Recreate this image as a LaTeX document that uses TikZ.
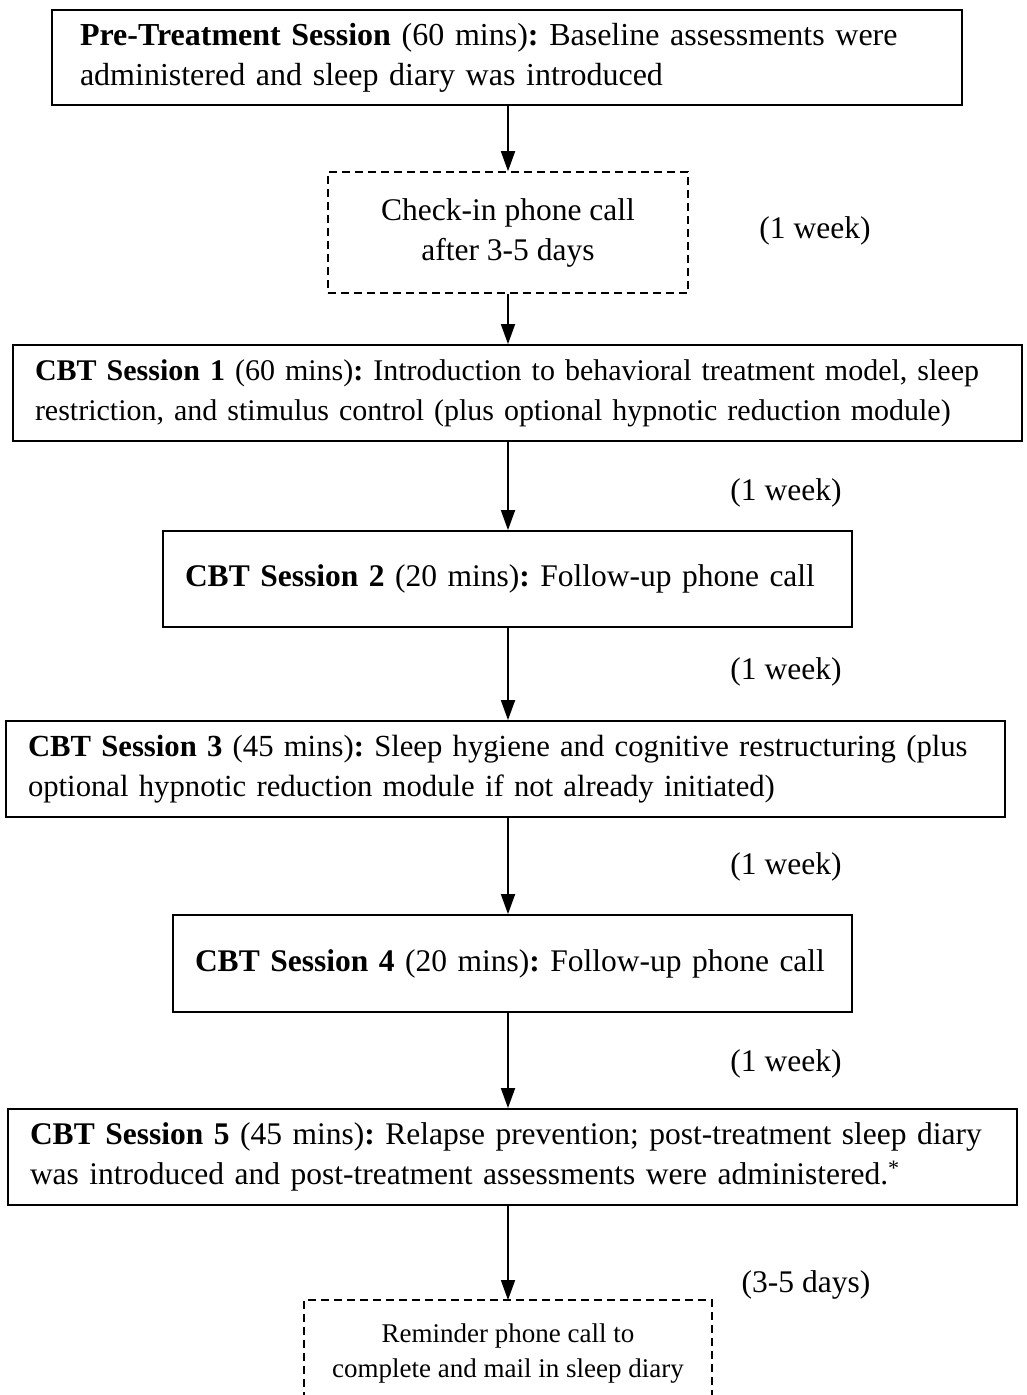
\documentclass[tikz,border=0pt]{standalone}
\usepackage{fontspec}
\setmainfont{Liberation Serif}
\usetikzlibrary{arrows.meta}
\frenchspacing
\begin{document}
\begin{tikzpicture}[x=1pt,y=-1pt,
  font=\fontsize{31.5}{40}\selectfont,
  stepbox/.style={draw, line width=1.8pt, align=left, inner ysep=0pt, anchor=center},
  callbox/.style={draw, line width=1.6pt, dash pattern=on 8pt off 5pt, align=center, inner sep=0pt, anchor=center},
  arr/.style={line width=1.8pt, -{Triangle[length=20pt,width=14pt]}},
  lbl/.style={inner sep=0pt, anchor=center}]
\useasboundingbox (0,0) rectangle (1027,1395);
\coordinate (spine) at (508,0);

\node[stepbox, text width=854pt, inner xsep=28pt, minimum height=95pt, font=\fontsize{32}{40}\selectfont] (b1) at (507,57.5)
 {\mbox{\textbf{Pre-Treatment Session} (60 mins)\textbf{:} Baseline assessments were}\\\mbox{administered and sleep diary was introduced}};

\node[callbox, minimum width=360pt, minimum height=121pt] (b2) at (508,232.5)
 {Check-in phone call\\after 3-5 days};
\node[lbl] (w1) at (815,231) {(1 week)};

\node[stepbox, text width=965pt, inner xsep=22pt, minimum height=96pt, font=\fontsize{30}{40}\selectfont] (b3) at (517.5,393)
 {\mbox{\textbf{CBT Session 1} (60 mins)\textbf{:} Introduction to behavioral treatment model, sleep}\\\mbox{restriction, and stimulus control (plus optional hypnotic reduction module)}};
\node[lbl] (w2) at (786,493) {(1 week)};

\node[stepbox, text width=645pt, inner xsep=22pt, minimum height=96pt] (b4) at (507.5,579)
 {\mbox{\textbf{CBT Session 2} (20 mins)\textbf{:} Follow-up phone call}};
\node[lbl] (w3) at (786,672) {(1 week)};

\node[stepbox, text width=955pt, inner xsep=22pt, minimum height=96pt, font=\fontsize{30.7}{40}\selectfont] (b5) at (505.5,769)
 {\mbox{\textbf{CBT Session 3} (45 mins)\textbf{:} Sleep hygiene and cognitive restructuring (plus}\\\mbox{optional hypnotic reduction module if not already initiated)}};
\node[lbl] (w4) at (786,867) {(1 week)};

\node[stepbox, text width=635pt, inner xsep=22pt, minimum height=97pt] (b6) at (512.5,963.5)
 {\mbox{\textbf{CBT Session 4} (20 mins)\textbf{:} Follow-up phone call}};
\node[lbl] (w5) at (786,1064) {(1 week)};

\node[stepbox, text width=965pt, inner xsep=22pt, minimum height=96pt] (b7) at (512.5,1157)
 {\mbox{\textbf{CBT Session 5} (45 mins)\textbf{:} Relapse prevention; post-treatment sleep diary}\\\mbox{was introduced and post-treatment assessments were administered.\textsuperscript{*}}};
\node[lbl] (w6) at (806,1285) {(3-5 days)};

\coordinate (b8top) at (508,1300);
\draw[line width=1.6pt, dash pattern=on 8pt off 5pt] (304,1400) -- (304,1300) -- (712,1300) -- (712,1400);
\node[lbl, align=center, font=\fontsize{27}{35}\selectfont] (b8) at (508,1354)
 {Reminder phone call to\\complete and mail in sleep diary};

\draw[arr] (b1.south -| spine) -- (b2.north -| spine);
\draw[arr] (b2.south -| spine) -- (b3.north -| spine);
\draw[arr] (b3.south -| spine) -- (b4.north -| spine);
\draw[arr] (b4.south -| spine) -- (b5.north -| spine);
\draw[arr] (b5.south -| spine) -- (b6.north -| spine);
\draw[arr] (b6.south -| spine) -- (b7.north -| spine);
\draw[arr] (b7.south -| spine) -- (b8top);
\end{tikzpicture}
\end{document}
